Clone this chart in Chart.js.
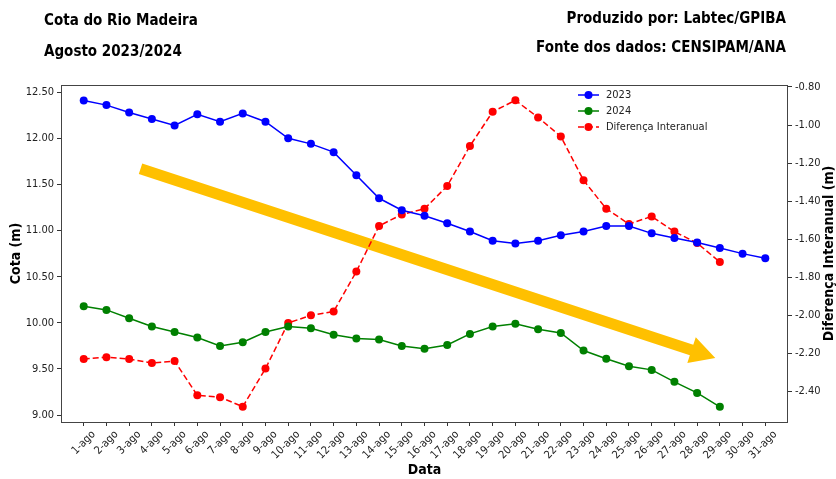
<!DOCTYPE html>
<html lang="pt">
<head>
<meta charset="UTF-8">
<title>Cota do Rio Madeira</title>
<script src="https://cdn.jsdelivr.net/npm/chart.js"></script>
<style>
  html, body { margin: 0; padding: 0; background: #fff; }
  #wrap { position: relative; width: 836px; height: 479px; }
  .hdr {
    position: absolute;
    font-family: 'DejaVu Sans Condensed', 'DejaVu Sans', sans-serif;
    font-weight: bold;
    font-size: 15px;
    line-height: 20px;
    color: #000;
    white-space: nowrap;
  }
</style>
</head>
<body>
<div id="wrap">
  <canvas id="cotaChart" width="836" height="479"></canvas>
  <div class="hdr" style="left:44px; top:10px;">Cota do Rio Madeira</div>
  <div class="hdr" style="left:44px; top:41px;">Agosto 2023/2024</div>
  <div class="hdr" style="right:50px; top:8px;">Produzido por: Labtec/GPIBA</div>
  <div class="hdr" style="right:50px; top:37px;">Fonte dos dados: CENSIPAM/ANA</div>
</div>

<script>
const FONT = "'DejaVu Sans Condensed', 'DejaVu Sans', sans-serif";

// dados
const dias = ['1-ago', '2-ago', '3-ago', '4-ago', '5-ago', '6-ago', '7-ago', '8-ago', '9-ago', '10-ago',
  '11-ago', '12-ago', '13-ago', '14-ago', '15-ago', '16-ago', '17-ago', '18-ago', '19-ago', '20-ago',
  '21-ago', '22-ago', '23-ago', '24-ago', '25-ago', '26-ago', '27-ago', '28-ago', '29-ago', '30-ago', '31-ago'];
const cota2023 = [12.41, 12.36, 12.28, 12.21, 12.14, 12.26, 12.18, 12.27, 12.18, 12.00,
  11.94, 11.85, 11.60, 11.35, 11.22, 11.16, 11.08, 10.99, 10.89, 10.86,
  10.89, 10.95, 10.99, 11.05, 11.05, 10.97, 10.92, 10.87, 10.81, 10.75, 10.70];
const cota2024 = [10.18, 10.14, 10.05, 9.96, 9.90, 9.84, 9.75, 9.79, 9.90, 9.96,
  9.94, 9.87, 9.83, 9.82, 9.75, 9.72, 9.76, 9.88, 9.96, 9.99,
  9.93, 9.89, 9.70, 9.61, 9.53, 9.49, 9.36, 9.24, 9.09];
const diferenca = [-2.23, -2.22, -2.23, -2.25, -2.24, -2.42, -2.43, -2.48, -2.28, -2.04,
  -2.00, -1.98, -1.77, -1.53, -1.47, -1.44, -1.32, -1.11, -0.93, -0.87,
  -0.96, -1.06, -1.29, -1.44, -1.52, -1.48, -1.56, -1.62, -1.72];
const cotaTicks = [9.00, 9.50, 10.00, 10.50, 11.00, 11.50, 12.00, 12.50];
const difTicks = [-2.40, -2.20, -2.00, -1.80, -1.60, -1.40, -1.20, -1.00, -0.80];

// seta de tendencia (indice do dia, cota)
const setaInicio = [2.5, 11.67];
const setaFim = [27.8, 9.62];

const pts = arr => arr.map((v, i) => ({ x: i, y: v }));

const arrowPlugin = {
  id: 'seta',
  beforeDatasetsDraw(chart) {
    const { ctx, scales } = chart;
    const x0 = scales.x.getPixelForValue(setaInicio[0]);
    const y0 = scales.y.getPixelForValue(setaInicio[1]);
    const x1 = scales.x.getPixelForValue(setaFim[0]);
    const y1 = scales.y.getPixelForValue(setaFim[1]);
    const len = Math.hypot(x1 - x0, y1 - y0);
    const ux = (x1 - x0) / len, uy = (y1 - y0) / len;
    const px = -uy, py = ux;
    const w = 5.5, headLen = 25, headW = 13.5;
    const bx = x1 - ux * headLen, by = y1 - uy * headLen;
    ctx.save();
    ctx.fillStyle = '#FFC000';
    ctx.beginPath();
    ctx.moveTo(x0 + px * w, y0 + py * w);
    ctx.lineTo(bx + px * w, by + py * w);
    ctx.lineTo(bx + px * headW, by + py * headW);
    ctx.lineTo(x1, y1);
    ctx.lineTo(bx - px * headW, by - py * headW);
    ctx.lineTo(bx - px * w, by - py * w);
    ctx.lineTo(x0 - px * w, y0 - py * w);
    ctx.closePath();
    ctx.fill();
    ctx.restore();
  }
};

const framePlugin = {
  id: 'moldura',
  afterDraw(chart) {
    const { ctx, chartArea: a } = chart;
    ctx.save();
    ctx.strokeStyle = '#444';
    ctx.lineWidth = 1;
    ctx.strokeRect(Math.round(a.left) + 0.5, Math.round(a.top) + 0.5,
      Math.round(a.right - a.left) - 1, Math.round(a.bottom - a.top));
    // titulo do eixo direito, lido de baixo para cima
    ctx.translate(829, (a.top + a.bottom) / 2);
    ctx.rotate(-Math.PI / 2);
    ctx.fillStyle = '#000';
    ctx.font = 'bold 14px ' + FONT;
    ctx.textAlign = 'center';
    ctx.textBaseline = 'middle';
    ctx.fillText('Diferença Interanual (m)', 0, 0);
    ctx.restore();
  }
};

const legendPlugin = {
  id: 'legenda',
  afterDraw(chart) {
    const { ctx } = chart;
    ctx.save();
    ctx.font = '11px ' + FONT;
    ctx.textBaseline = 'middle';
    chart.data.datasets.forEach((ds, i) => {
      const y = 95 + i * 16;
      ctx.strokeStyle = ds.borderColor;
      ctx.lineWidth = 1.5;
      ctx.setLineDash(ds.borderDash || []);
      ctx.beginPath();
      ctx.moveTo(578, y);
      ctx.lineTo(599, y);
      ctx.stroke();
      ctx.setLineDash([]);
      ctx.fillStyle = ds.borderColor;
      ctx.beginPath();
      ctx.arc(588.5, y, 4, 0, Math.PI * 2);
      ctx.fill();
      ctx.fillStyle = '#222';
      ctx.fillText(ds.label, 606, y);
    });
    ctx.restore();
  }
};

const tickFont = { family: FONT, size: 11 };

new Chart(document.getElementById('cotaChart'), {
  type: 'line',
  data: {
    datasets: [
      {
        label: '2023', data: pts(cota2023), yAxisID: 'y',
        borderColor: '#0000ff', backgroundColor: '#0000ff',
        borderWidth: 1.5, pointRadius: 4, pointBorderWidth: 0
      },
      {
        label: '2024', data: pts(cota2024), yAxisID: 'y',
        borderColor: '#008000', backgroundColor: '#008000',
        borderWidth: 1.5, pointRadius: 4, pointBorderWidth: 0
      },
      {
        label: 'Diferença Interanual', data: pts(diferenca), yAxisID: 'y2',
        borderColor: '#ff0000', backgroundColor: '#ff0000', borderDash: [6, 3],
        borderWidth: 1.5, pointRadius: 4, pointBorderWidth: 0
      }
    ]
  },
  options: {
    responsive: false,
    animation: false,
    layout: { padding: { top: 85, left: 0, right: 0, bottom: 0 } },
    plugins: { legend: { display: false }, tooltip: { enabled: false } },
    elements: { line: { tension: 0 } },
    scales: {
      x: {
        type: 'linear', min: -1, max: 31,
        afterBuildTicks: s => { s.ticks = dias.map((d, i) => ({ value: i })); },
        afterFit: s => { s.height = 57; },
        ticks: {
          autoSkip: false, maxRotation: 45, minRotation: 45, labelOffset: 10,
          color: '#222', font: tickFont, padding: 2,
          callback: v => dias[v] || ''
        },
        grid: { drawOnChartArea: false, tickLength: 4, tickColor: '#333' },
        border: { display: false },
        title: { display: true, text: 'Data', color: '#000', padding: { top: 0, bottom: 0 },
          font: { family: FONT, size: 14, weight: 'bold' } }
      },
      y: {
        position: 'left', min: 8.925, max: 12.578,
        afterBuildTicks: s => { s.ticks = cotaTicks.map(v => ({ value: v })); },
        afterFit: s => { s.width = 61; },
        ticks: { color: '#222', font: tickFont, padding: 3, callback: v => v.toFixed(2) },
        grid: { drawOnChartArea: false, tickLength: 4, tickColor: '#333' },
        border: { display: false },
        title: { display: true, text: 'Cota (m)', color: '#000', padding: { top: 8, bottom: 0 },
          font: { family: FONT, size: 14, weight: 'bold' } }
      },
      y2: {
        position: 'right', min: -2.5605, max: -0.7895,
        afterBuildTicks: s => { s.ticks = difTicks.map(v => ({ value: v })); },
        afterFit: s => { s.width = 48; },
        ticks: { color: '#222', font: tickFont, padding: 3, callback: v => v.toFixed(2) },
        grid: { drawOnChartArea: false, tickLength: 4, tickColor: '#333' },
        border: { display: false }
      }
    }
  },
  plugins: [arrowPlugin, framePlugin, legendPlugin]
});
</script>
</body>
</html>
